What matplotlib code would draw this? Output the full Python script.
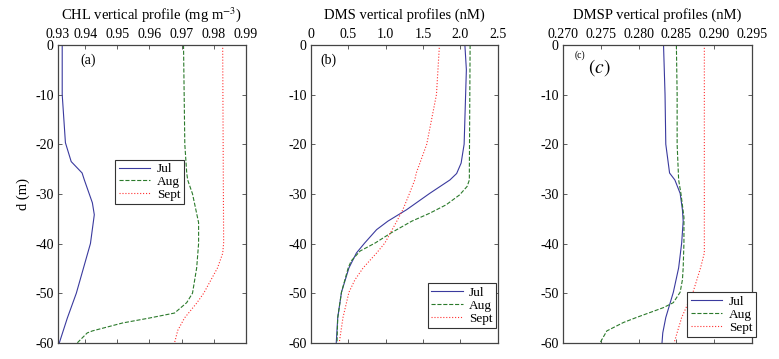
import matplotlib
matplotlib.use('Agg')
import matplotlib.pyplot as plt

plt.rcParams['font.family'] = ['Liberation Serif', 'DejaVu Serif']
plt.rcParams['mathtext.fontset'] = 'stix'

# ---- data (depth in m, negative downwards) ----
chl_jul_d = [0, -10, -19.7, -23.5, -25.8, -27.2, -31.8, -34.2, -40, -50, -55, -60]
chl_jul_v = [0.9328, 0.9328, 0.9338, 0.9356, 0.9390, 0.9397, 0.9422, 0.9428, 0.9416, 0.9372, 0.9344, 0.9319]
chl_aug_d = [0, -20, -25.8, -27.2, -30, -35.8, -40, -44.9, -50, -51.9, -54, -55, -56, -57.6, -58, -60]
chl_aug_v = [0.9706, 0.9710, 0.9716, 0.9719, 0.9734, 0.9753, 0.9753, 0.9747, 0.9734, 0.9716, 0.9678, 0.9600, 0.9516, 0.9422, 0.9406, 0.9375]
chl_sep_d = [0, -39.9, -42, -44.9, -50, -52, -55, -57.5, -60]
chl_sep_v = [0.9828, 0.9831, 0.9828, 0.9812, 0.9769, 0.9747, 0.9709, 0.9688, 0.9678]

dms_jul_d = [0, -5, -10, -20, -23.8, -25.9, -27.2, -29.9, -33.2, -35.5, -37.2, -39.9, -41.9, -44.9, -49.8, -54.9, -60]
dms_jul_v = [2.06, 2.08, 2.07, 2.05, 2.01, 1.95, 1.86, 1.59, 1.28, 1.03, 0.88, 0.72, 0.61, 0.51, 0.41, 0.36, 0.34]
dms_aug_d = [0, -25, -27.2, -28.5, -30.2, -32.2, -33.9, -35.5, -37.8, -39.9, -41.5, -43.5, -44.9, -49.8, -54.9, -60]
dms_aug_v = [2.13, 2.12, 2.12, 2.09, 1.99, 1.81, 1.59, 1.35, 1.08, 0.86, 0.66, 0.54, 0.50, 0.41, 0.36, 0.35]
dms_sep_d = [0, -10, -20, -25.8, -27.2, -29.9, -33.2, -35.5, -39.9, -41.9, -44.9, -47.3, -49.8, -54.9, -60]
dms_sep_v = [1.72, 1.68, 1.55, 1.41, 1.39, 1.32, 1.23, 1.15, 0.99, 0.88, 0.70, 0.59, 0.51, 0.43, 0.38]

dmsp_jul_d = [0, -10, -20, -25.8, -27.2, -29.9, -33.2, -35.5, -39.9, -44.9, -49.8, -54.9, -58, -60]
dmsp_jul_v = [0.2833, 0.2835, 0.2836, 0.2841, 0.2848, 0.2855, 0.2858, 0.2859, 0.2857, 0.2853, 0.2846, 0.2836, 0.2832, 0.2831]
dmsp_aug_d = [0, -10, -20, -27.2, -29.9, -34.7, -39.9, -44.9, -47.3, -49.8, -51.9, -52.9, -53.9, -54.9, -55.9, -56.9, -57.6, -60]
dmsp_aug_v = [0.2850, 0.2851, 0.2851, 0.2853, 0.2856, 0.2860, 0.2860, 0.2859, 0.2858, 0.2855, 0.2846, 0.2833, 0.2815, 0.2797, 0.2780, 0.2767, 0.2758, 0.2749]
dmsp_sep_d = [0, -41.9, -44.9, -49.8, -54.9, -60]
dmsp_sep_v = [0.2887, 0.2887, 0.2882, 0.2872, 0.2857, 0.2847]

months = ['Jul', 'Aug', 'Sept']
col = ['#3a3a9e', '#2b7a2b', '#ff3030']
sty = ['-', '--', ':']

panels = [
    ('CHL vertical profile (mg m$^{-3}$)', (0.9315, 0.99), [0.9315, 0.94, 0.95, 0.96, 0.97, 0.98, 0.99],
     ['0.93', '0.94', '0.95', '0.96', '0.97', '0.98', '0.99'],
     [(chl_jul_v, chl_jul_d), (chl_aug_v, chl_aug_d), (chl_sep_v, chl_sep_d)]),
    ('DMS vertical profiles (nM)', (0, 2.5), [0, 0.5, 1.0, 1.5, 2.0, 2.5],
     ['0', '0.5', '1.0', '1.5', '2.0', '2.5'],
     [(dms_jul_v, dms_jul_d), (dms_aug_v, dms_aug_d), (dms_sep_v, dms_sep_d)]),
    ('DMSP vertical profiles (nM)', (0.27, 0.295), [0.27, 0.275, 0.28, 0.285, 0.29, 0.295],
     ['0.270', '0.275', '0.280', '0.285', '0.290', '0.295'],
     [(dmsp_jul_v, dmsp_jul_d), (dmsp_aug_v, dmsp_aug_d), (dmsp_sep_v, dmsp_sep_d)]),
]

fig = plt.figure(figsize=(7.79, 3.59), dpi=100)
lefts = [0.0745, 0.399, 0.7227]
widths = [0.241, 0.240, 0.2426]
axes = []
for i, (title, xl, xt, xtl, series) in enumerate(panels):
    ax = fig.add_axes([lefts[i], 0.045, widths[i], 0.830])
    for k, (v, d) in enumerate(series):
        ax.plot(v, d, sty[k], color=col[k], lw=0.8, label=months[k])
    ax.set_xlim(*xl)
    ax.set_ylim(-60, 0)
    ax.set_xticks(xt)
    ax.set_xticklabels(xtl)
    ax.set_yticks([0, -10, -20, -30, -40, -50, -60])
    ax.set_yticklabels(['0', '-10', '-20', '-30', '-40', '-50', '-60'])
    ax.xaxis.tick_top()
    ax.tick_params(direction='in', top=True, bottom=True, left=True, right=True,
                   labeltop=True, labelbottom=False, labelsize=10, length=3,
                   width=0.6, color='#444444', pad=3)
    for s in ax.spines.values():
        s.set_color('#444444')
        s.set_linewidth(0.9)
    ax.set_title(title, fontsize=10.5, pad=19)
    axes.append(ax)

axes[0].set_ylabel('d (m)', fontsize=10.5, labelpad=4)

axes[0].text(0.12, 0.95, '(a)', transform=axes[0].transAxes, fontsize=10, va='center')
axes[1].text(0.05, 0.95, '(b)', transform=axes[1].transAxes, fontsize=10, va='center')
axes[2].text(0.06, 0.965, '(c)', transform=axes[2].transAxes, fontsize=7, va='center')
axes[2].text(0.13, 0.925, '$(c)$', transform=axes[2].transAxes, fontsize=14, va='center')

leg_kw = dict(fontsize=9.5, fancybox=False, edgecolor='#333333', framealpha=1,
              handlelength=2.4, borderpad=0.25, labelspacing=0.05, handletextpad=0.5,
              borderaxespad=0)
l0 = axes[0].legend(loc='upper left', bbox_to_anchor=(0.305, 0.615), **leg_kw)
l1 = axes[1].legend(loc='lower right', bbox_to_anchor=(0.99, 0.05), **leg_kw)
l2 = axes[2].legend(loc='lower right', bbox_to_anchor=(1.02, 0.02), **leg_kw)
for l in (l0, l1, l2):
    l.get_frame().set_linewidth(0.8)

fig.savefig('out.png', dpi=100)
